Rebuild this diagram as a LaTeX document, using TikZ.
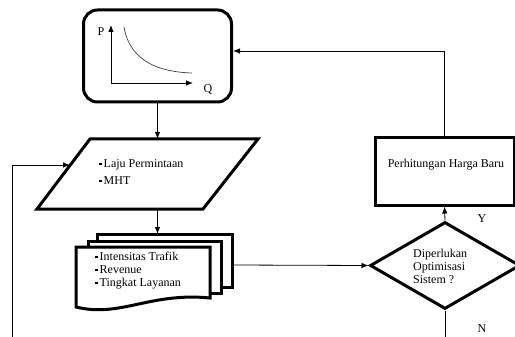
\documentclass[tikz,border=0pt]{standalone}
\usepackage{fontspec}
\setmainfont{Liberation Serif}
\usetikzlibrary{shapes.geometric,arrows.meta}
\newcommand{\bul}{\rule[2.5pt]{2.5pt}{2.5pt}\,}
\begin{document}
\begin{tikzpicture}[x=1pt,y=-1pt,
  box/.style={draw,line width=3pt},
  conn/.style={line width=0.8pt},
  arr/.style={conn,-{Latex[length=7pt,width=5.5pt]}},
  txt/.style={font=\fontsize{12}{13}\selectfont,align=left,inner sep=0pt}]
\useasboundingbox (0,0) rectangle (515,337);
\clip (0,0) rectangle (515,337);
\def\bx{157.5}

\node[box,rounded corners=14pt,minimum width=148pt,minimum height=92pt] (graf) at (\bx,56) {};
\coordinate (o) at (111,83);
\draw[arr] (o) -- (111,25);
\draw[arr] (o) -- (193,83);
\draw[line width=0.7pt,black!75] (124,27) .. controls (130,62) and (160,72) .. (192,73);
\node[txt] (p) at (101,32) {P};
\node[txt] (q) at (208,90) {Q};

\draw[box] (90,139) -- (258,139) -- (203,209) -- (37,209) -- cycle;
\coordinate (in-top) at (\bx,139);
\coordinate (in-bot) at (\bx,209);
\coordinate (in-left) at (70,165);
\node[txt,anchor=west] (input) at (99,172.5) {\bul Laju Permintaan\\[4pt]\bul MHT};

\draw[box,fill=white] (97,234) rectangle (232,287);
\draw[box,fill=white] (88,241) rectangle (221,293);
\draw[box,fill=white] (76,247) -- (210,247) -- (210,298) .. controls (150,292) and (120,318) .. (76,307) -- cycle;
\coordinate (dok-top) at (\bx,234);
\coordinate (dok-right) at (232,265);
\node[txt,anchor=west] (dok) at (95,271) {\bul Intensitas Trafik\\\bul Revenue\\\bul Tingkat Layanan};

\node[box,diamond,minimum width=150pt,minimum height=87pt,inner sep=0pt] (cek) at (445,265.5) {};
\node[txt,anchor=west] (cek-txt) at (413,266) {Diperlukan\\Optimisasi\\Sistem ?};

\node[box,minimum width=139pt,minimum height=67pt,inner sep=0pt] (harga) at (444.5,171.5) {};
\node[txt] (harga-txt) at (446,165) {Perhitungan Harga Baru};

\node[txt] (y) at (482,219) {Y};
\node[txt] (n) at (482,329) {N};

\coordinate (fb) at (12,337);
\coordinate (no) at (445,337);

\draw[arr] (graf.south) -- (in-top);
\draw[arr] (in-bot) -- (dok-top);
\draw[arr] (dok-right) -- (cek.west);
\draw[arr] (cek.north) -- (harga.south);
\draw[arr] (harga.north) |- ([yshift=5pt]graf.east);
\draw[arr] (fb) |- (in-left);
\draw[conn] (cek.south) -- (no);
\end{tikzpicture}
\end{document}
